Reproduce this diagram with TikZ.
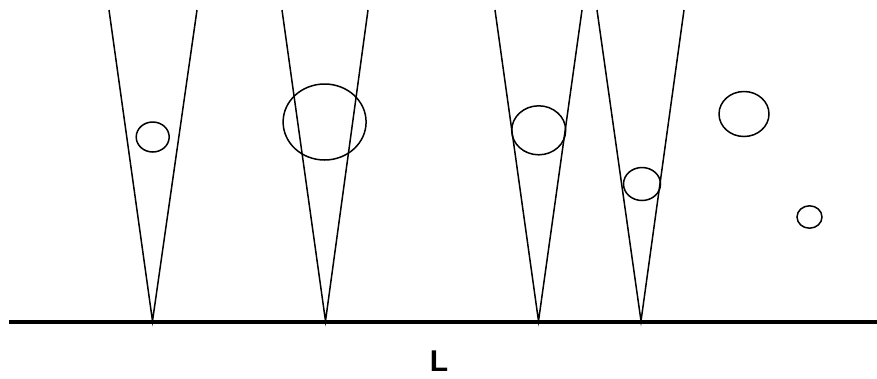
\documentclass[tikz,border=0pt]{standalone}
\usepackage{fontspec}
\setmainfont{Liberation Sans}
\usepackage{tikz}

\begin{document}
\begin{tikzpicture}[
    x=1pt, y=-1pt,
    cone/.style={line width=1.5pt},
    drop/.style={line width=1.5pt},
    ground/.style={line width=3.5pt}
  ]
    \useasboundingbox (0,0) rectangle (877,378);
    % ground line and apexes
    \coordinate (gl) at (9,322);
    \coordinate (gr) at (877,322);
    \coordinate (a1) at (152.5,321);
    \coordinate (a2) at (325.5,321);
    \coordinate (a3) at (538.5,321);
    \coordinate (a4) at (641,321);
    % cone openings
    \coordinate (l1) at (109,10);  \coordinate (r1) at (197,10);
    \coordinate (l2) at (282,10);  \coordinate (r2) at (368,10);
    \coordinate (l3) at (495,10);  \coordinate (r3) at (582,10);
    \coordinate (l4) at (597,10);  \coordinate (r4) at (684,10);
    \draw[cone] (l1) -- (a1) -- (r1);
    \draw[cone] (l2) -- (a2) -- (r2);
    \draw[cone] (l3) -- (a3) -- (r3);
    \draw[cone] (l4) -- (a4) -- (r4);
    % drops
    \draw[drop] (152.7,137) ellipse [x radius=16.5, y radius=15];
    \draw[drop] (324.6,122) ellipse [x radius=41.5, y radius=38];
    \draw[drop] (538.7,130.3) ellipse [x radius=27, y radius=24.5];
    \draw[drop] (642,184) ellipse [x radius=18.5, y radius=16.5];
    \draw[drop] (744,114) ellipse [x radius=25, y radius=22.5];
    \draw[drop] (809.5,217) ellipse [x radius=12.5, y radius=11.2];
    \draw[ground] (gl) -- (gr);
    \node[inner sep=0pt, font=\fontsize{30}{30}\selectfont\bfseries] (label) at (439,361) {L};
  \end{tikzpicture}
\end{document}
